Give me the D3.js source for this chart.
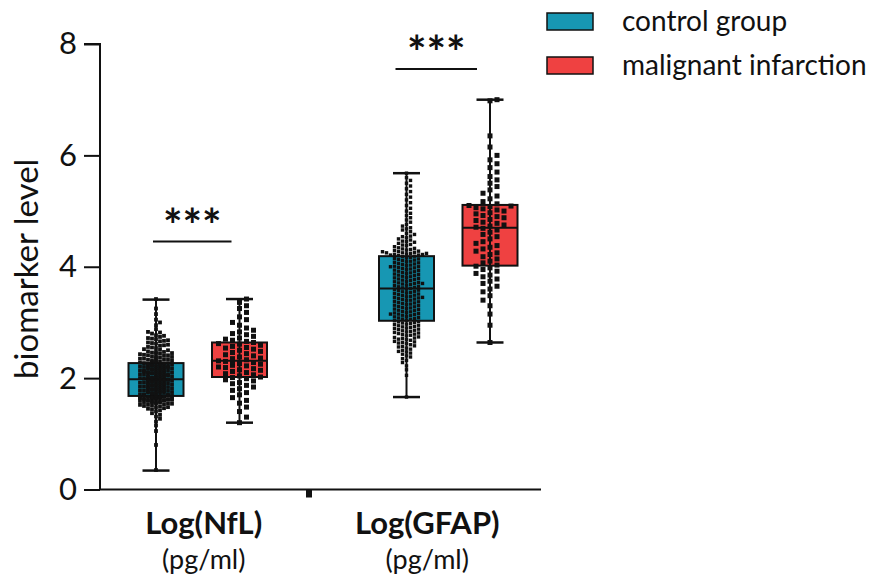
<!DOCTYPE html>
<html><head><meta charset="utf-8">
<script src="https://cdn.jsdelivr.net/npm/d3@7"></script>
<style>body{margin:0;background:#fff}</style>
</head><body><svg id="c" width="877" height="576"></svg>
<script>
// ---------------- DATA ----------------
const biomarkers = ["Log(NfL)", "Log(GFAP)"];
const unitLabel = "(pg/ml)";
const groups = ["control group", "malignant infarction"];
const groupColors = ["#1797b3", "#ef4141"];
const yTicks = [0, 2, 4, 6, 8];
const sigLabels = ["***", "***"];
const yLabel = "biomarker level";

// box stats: [min, q1, median, q3, max]
const nflControlBox = [0.34, 1.68, 1.98, 2.27, 3.41];
const nflMalignantBox = [1.20, 2.02, 2.31, 2.64, 3.42];
const gfapControlBox = [1.66, 3.03, 3.61, 4.19, 5.68];
const gfapMalignantBox = [2.64, 4.02, 4.70, 5.11, 7.00];

const nflControl = [
 0.35,0.80,1.05,1.15,1.22,1.27,1.31,1.34,1.37,1.40,1.42,1.44,1.46,1.48,1.50,1.51,1.53,1.54,1.55,1.56,
 1.57,1.58,1.59,1.60,1.60,1.61,1.62,1.62,1.63,1.63,1.64,1.64,1.65,1.65,1.66,1.66,1.67,1.67,1.68,1.68,
 1.45,1.49,1.52,1.56,1.58,1.61,1.63,1.65,1.66,1.67,1.52,1.57,1.59,1.62,1.64,1.47,1.54,1.60,1.65,1.67,
 1.69,1.70,1.70,1.71,1.72,1.72,1.73,1.74,1.74,1.75,1.76,1.76,1.77,1.78,1.78,1.79,1.80,1.80,1.81,1.82,
 1.82,1.83,1.84,1.84,1.85,1.86,1.86,1.87,1.88,1.88,1.89,1.90,1.90,1.91,1.92,1.92,1.93,1.94,1.94,1.95,
 1.96,1.96,1.97,1.97,1.98,1.71,1.75,1.79,1.83,1.87,1.91,1.95,1.73,1.77,1.81,1.85,1.89,1.93,1.97,1.98,
 1.99,2.00,2.00,2.01,2.02,2.02,2.03,2.04,2.04,2.05,2.06,2.06,2.07,2.08,2.08,2.09,2.10,2.10,2.11,2.12,
 2.12,2.13,2.14,2.14,2.15,2.16,2.16,2.17,2.18,2.18,2.19,2.20,2.20,2.21,2.22,2.22,2.23,2.24,2.24,2.25,
 2.26,2.26,2.27,2.01,2.05,2.09,2.13,2.17,2.21,2.25,2.03,2.07,2.11,2.15,2.19,2.23,2.27,2.00,2.10,2.20,
 2.28,2.29,2.30,2.31,2.32,2.33,2.34,2.35,2.36,2.37,2.38,2.39,2.40,2.41,2.42,2.43,2.44,2.45,2.46,2.47,
 2.48,2.50,2.52,2.54,2.56,2.58,2.60,2.62,2.64,2.66,2.68,2.70,2.72,2.74,2.77,2.80,2.83,2.88,2.95,3.05,
 3.15,3.42,2.29,2.31,2.33,2.35,2.38,2.41,2.44,2.47,2.51,2.55,2.59,2.63,2.67,2.71,2.76,2.82,3.00,3.25
];
const nflMalignant = [
 1.20,1.30,1.40,1.48,1.55,1.60,1.65,1.70,1.74,1.78,1.81,1.84,1.87,1.90,1.92,1.95,1.97,1.99,2.01,
 2.02,2.04,2.06,2.08,2.10,2.12,2.14,2.15,2.17,2.19,2.20,2.22,2.23,2.25,2.26,2.27,2.28,2.29,2.30,
 2.31,2.33,2.35,2.36,2.38,2.40,2.42,2.44,2.46,2.48,2.50,2.52,2.54,2.55,2.57,2.59,2.61,2.62,2.64,
 2.66,2.68,2.70,2.72,2.75,2.78,2.80,2.83,2.86,2.90,2.95,3.00,3.05,3.10,3.18,3.25,3.30,3.36,3.42
];
const gfapControl = [
 1.66,2.05,2.15,2.22,2.28,2.32,2.35,2.38,2.40,2.43,2.45,2.47,2.50,2.52,2.54,2.56,2.58,2.60,2.62,2.63,
 2.65,2.66,2.68,2.69,2.70,2.72,2.73,2.74,2.76,2.77,2.78,2.80,2.81,2.82,2.83,2.85,2.86,2.87,2.88,2.89,
 2.90,2.91,2.92,2.93,2.94,2.95,2.96,2.97,2.98,2.99,3.00,3.01,3.02,3.03,2.48,2.57,2.64,2.71,2.79,2.84,
 3.04,3.05,3.06,3.07,3.08,3.09,3.10,3.11,3.12,3.13,3.14,3.15,3.16,3.17,3.18,3.19,3.20,3.21,3.22,3.23,
 3.24,3.25,3.26,3.27,3.28,3.29,3.30,3.31,3.32,3.33,3.34,3.35,3.36,3.37,3.38,3.39,3.40,3.41,3.42,3.43,
 3.44,3.45,3.46,3.47,3.48,3.49,3.50,3.51,3.52,3.53,3.54,3.55,3.56,3.57,3.58,3.59,3.60,3.61,3.15,3.45,
 3.62,3.63,3.64,3.65,3.66,3.67,3.68,3.69,3.70,3.71,3.72,3.73,3.74,3.75,3.76,3.77,3.78,3.79,3.80,3.81,
 3.82,3.83,3.84,3.85,3.86,3.87,3.88,3.89,3.90,3.91,3.92,3.93,3.94,3.95,3.96,3.97,3.98,3.99,4.00,4.01,
 4.02,4.03,4.04,4.05,4.06,4.07,4.08,4.09,4.10,4.11,4.12,4.13,4.14,4.15,4.16,4.17,4.18,4.19,3.70,4.00,
 4.20,4.21,4.22,4.22,4.23,4.24,4.25,4.25,4.26,4.27,4.28,4.29,4.30,4.31,4.32,4.34,4.36,4.38,4.40,4.42,
 4.44,4.46,4.48,4.50,4.52,4.55,4.58,4.60,4.63,4.66,4.70,4.73,4.76,4.80,4.84,4.88,4.92,4.96,5.00,5.05,
 5.10,5.15,5.20,5.25,5.30,5.35,5.40,5.45,5.50,5.55,5.60,5.68,4.21,4.24,4.27,4.33,4.39,4.45,4.54,4.68
];
const gfapMalignant = [
 2.64,2.95,3.15,3.30,3.40,3.48,3.55,3.60,3.65,3.70,3.74,3.78,3.82,3.85,3.88,3.92,3.95,3.98,4.01,
 4.03,4.07,4.10,4.14,4.18,4.22,4.25,4.28,4.32,4.35,4.38,4.42,4.45,4.50,4.54,4.58,4.62,4.66,4.69,
 4.71,4.73,4.75,4.78,4.80,4.83,4.85,4.88,4.90,4.92,4.95,4.97,5.00,5.02,5.04,5.06,5.08,5.09,5.10,
 5.13,5.17,5.22,5.27,5.32,5.38,5.44,5.50,5.56,5.62,5.70,5.78,5.85,5.92,6.00,6.15,6.35,6.98,7.00
];

// ---------------- CHART ----------------
const FONT = "Lato, 'Open Sans', sans-serif";
const svg = d3.select("#c");
const y = d3.scaleLinear().domain([0, 8]).range([489.5, 44]);
// slot positions: 1,2 = NfL groups; 4,5 = GFAP groups
const x = d3.scaleLinear().domain([1, 5]).range([156, 490]);

const series = [
  {slot: 1, box: nflControlBox, vals: nflControl, g: 0, size: 3.8, gx: 3.4, gy: 3.4, half: 19},
  {slot: 2, box: nflMalignantBox, vals: nflMalignant, g: 1, size: 5, gx: 7, gy: 6, half: 25},
  {slot: 4, box: gfapControlBox, vals: gfapControl, g: 0, size: 3.4, gx: 4.0, gy: 3.6, half: 25},
  {slot: 5, box: gfapMalignantBox, vals: gfapMalignant, g: 1, size: 5, gx: 7, gy: 6, half: 25}
];
const boxW = 55, capW = 27;

// continuous beeswarm (rectangular collision), deterministic
function swarm(values, gx, gy, maxHalf) {
  const placed = [];
  const pts = values.map(v => ({v, y: y(v)})).sort((a, b) => a.v - b.v);
  pts.forEach((p, i) => {
    const near = placed.filter(q => Math.abs(q.y - p.y) < gy);
    const sgn = i % 2 ? 1 : -1;
    let best = 0, bestC = Infinity;
    for (let k = 0; k <= maxHalf * 2; k++) {
      const dx = (k % 2 ? sgn : -sgn) * Math.ceil(k / 2) * 1;
      if (Math.abs(dx) > maxHalf) continue;
      let c = 0;
      for (const q of near) if (Math.abs(q.dx - dx) < gx) c++;
      if (c < bestC) { bestC = c; best = dx; }
      if (c === 0) break;
    }
    p.dx = best; placed.push(p);
  });
  return placed;
}

// axes
const yAxis = d3.axisLeft(y).tickValues(yTicks).tickSize(16).tickPadding(7).tickFormat(d3.format("d"));
const ga = svg.append("g").attr("transform", "translate(100,0)").call(yAxis);
ga.select(".domain").attr("stroke", "#111").attr("stroke-width", 2).attr("d", `M-16,${y(8)}H0V${y(0)}`);
ga.selectAll(".tick line").attr("stroke", "#111").attr("stroke-width", 2);
ga.selectAll(".tick text").attr("font-family", FONT).attr("font-size", 31).attr("fill", "#111");

svg.append("line").attr("x1", 99).attr("x2", 541).attr("y1", y(0)).attr("y2", y(0))
  .attr("stroke", "#111").attr("stroke-width", 2);
svg.append("rect").attr("x", 306).attr("y", y(0)).attr("width", 6).attr("height", 8).attr("fill", "#111");

svg.append("text").attr("transform", `translate(38,${y(4) + 2}) rotate(-90)`)
  .attr("text-anchor", "middle").attr("font-family", FONT).attr("font-size", 33).attr("fill", "#111")
  .text(yLabel);

// x labels
const labelX = [x(1.5) + 6, x(4.5) - 21];
biomarkers.forEach((b, i) => {
  svg.append("text").attr("x", labelX[i]).attr("y", 534).attr("text-anchor", "middle")
    .attr("font-family", FONT).attr("font-weight", "bold").attr("font-size", 31).attr("fill", "#111").text(b);
  svg.append("text").attr("x", labelX[i]).attr("y", 569).attr("text-anchor", "middle")
    .attr("font-family", FONT).attr("font-size", 27).attr("fill", "#111").text(unitLabel);
});

// boxes
series.forEach(s => {
  const cx = x(s.slot);
  const [mn, q1, md, q3, mx] = s.box;
  const g = svg.append("g");
  g.append("line").attr("x1", cx).attr("x2", cx).attr("y1", y(mx)).attr("y2", y(mn))
    .attr("stroke", "#111").attr("stroke-width", 2);
  g.append("rect").attr("x", cx - boxW / 2).attr("y", y(q3)).attr("width", boxW).attr("height", y(q1) - y(q3))
    .attr("fill", groupColors[s.g]).attr("stroke", "#111").attr("stroke-width", 2);
  g.append("line").attr("x1", cx).attr("x2", cx).attr("y1", y(q3)).attr("y2", y(q1))
    .attr("stroke", "#111").attr("stroke-width", 2);
  [mn, mx].forEach(v => g.append("line").attr("x1", cx - capW / 2).attr("x2", cx + capW / 2)
    .attr("y1", y(v)).attr("y2", y(v)).attr("stroke", "#111").attr("stroke-width", 2.5));
  g.append("line").attr("x1", cx - boxW / 2).attr("x2", cx + boxW / 2).attr("y1", y(md)).attr("y2", y(md))
    .attr("stroke", "#111").attr("stroke-width", 2);
  const pts = swarm(s.vals, s.gx, s.gy, s.half);
  g.selectAll("rect.pt").data(pts).join("rect").attr("class", "pt")
    .attr("x", d => cx + d.dx - s.size / 2).attr("y", d => d.y - s.size / 2)
    .attr("width", s.size).attr("height", s.size)
    .attr("fill", "#111");
});

// significance
[[1, 2], [4, 5]].forEach((pair, i) => {
  const top = i === 0 ? 241.5 : 69;
  const x1 = i === 0 ? x(pair[0]) - 3 : x(pair[0]) - 11;
  const x2 = i === 0 ? x(pair[1]) - 8 : x(pair[1]) - 13;
  svg.append("line").attr("x1", x1).attr("x2", x2).attr("y1", top).attr("y2", top)
    .attr("stroke", "#111").attr("stroke-width", 2);
  svg.append("text").attr("x", (x1 + x2) / 2).attr("y", top).attr("text-anchor", "middle")
    .attr("font-family", FONT).attr("font-weight", "bold").attr("font-size", 46).attr("fill", "#111")
    .text(sigLabels[i]);
});

// legend
groups.forEach((gname, i) => {
  const ly = 22 + i * 44;
  svg.append("rect").attr("x", 547).attr("y", ly - 9).attr("width", 46).attr("height", 17)
    .attr("fill", groupColors[i]).attr("stroke", "#111").attr("stroke-width", 1.5);
  svg.append("text").attr("x", 622).attr("y", ly + 9).attr("font-family", FONT).attr("font-size", 28)
    .attr("fill", "#111").text(gname);
});
</script></body></html>
